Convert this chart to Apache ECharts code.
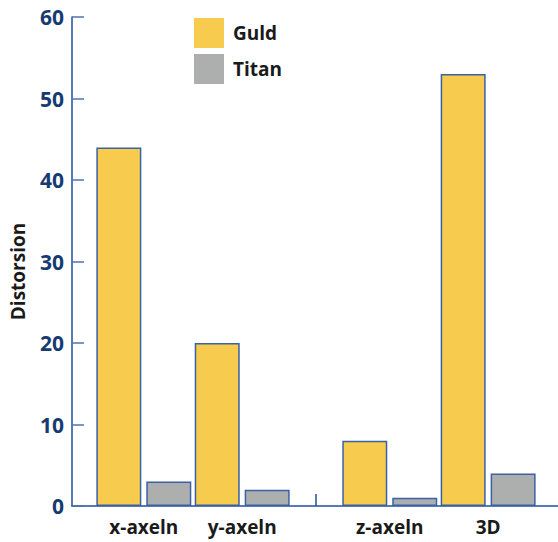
<!DOCTYPE html>
<html>
<head>
<meta charset="utf-8">
<script src="https://cdn.jsdelivr.net/npm/echarts@6/dist/echarts.min.js"></script>
<style>html,body{margin:0;padding:0;background:#fff}#c{width:558px;height:542px}</style>
</head>
<body>
<div id="c"></div>
<script>
const categories = ['x-axeln', 'y-axeln', 'z-axeln', '3D'];
const seriesNames = ['Guld', 'Titan'];
const guld = [44, 20, 8, 53];
const titan = [3, 2, 1, 4];
const yTickLabels = [0, 10, 20, 30, 40, 50, 60];

// category positions on the x scale: second pair of groups is set apart by an extra half step
const positions = categories.map((c, i) => i + 1 + (i >= 2 ? 0.5 : 0));
const separator = (positions[1] + positions[2]) / 2;

const axisBlue = '#1f4f9e';
const tickBlue = '#4f73b0';
const labelNavy = '#163a72';
const font = '"Open Sans", "Noto Sans", sans-serif';

const chart = echarts.init(document.getElementById('c'), null, {renderer: 'svg'});
chart.setOption({
  animation: false,
  backgroundColor: '#ffffff',
  grid: {left: 69, right: 0, top: 17, bottom: 36},
  legend: {
    orient: 'vertical', left: 194, top: 18, padding: 0,
    itemWidth: 30, itemHeight: 30, itemGap: 6,
    icon: 'rect',
    itemStyle: {borderWidth: 0},
    textStyle: {fontFamily: font, fontWeight: 'bold', fontSize: 19, color: '#1a1a1a', padding: [0, 0, 0, 4]},
    data: seriesNames
  },
  xAxis: {
    type: 'value', min: 0.27, max: 5.21,
    splitLine: {show: false},
    axisLine: {show: true, lineStyle: {color: axisBlue, width: 1.5}},
    axisTick: {show: true, inside: true, length: 12, customValues: [separator], lineStyle: {color: axisBlue, width: 1.5}},
    axisLabel: {
      customValues: positions,
      formatter: v => { const i = positions.indexOf(v); return i >= 0 ? categories[i] : ''; },
      fontFamily: font, fontWeight: 'bold', fontSize: 19, color: '#1a1a1a', margin: 11
    }
  },
  yAxis: {
    type: 'value', min: yTickLabels[0], max: yTickLabels[yTickLabels.length - 1], interval: 10,
    name: 'Distorsion', nameLocation: 'middle', nameGap: 45, nameRotate: 90,
    nameTextStyle: {fontFamily: font, fontWeight: 'bold', fontSize: 19, color: '#1a1a1a', padding: [0, 0, 0, -20]},
    splitLine: {show: false},
    axisLine: {show: true, lineStyle: {color: axisBlue, width: 1.5}},
    axisTick: {show: true, inside: true, length: 12, lineStyle: {color: tickBlue, width: 1.5}},
    axisLabel: {fontFamily: font, fontWeight: 'bold', fontSize: 21, color: labelNavy, margin: 8}
  },
  series: [
    {
      name: seriesNames[0], type: 'bar', barWidth: 45, barGap: '11%',
      itemStyle: {color: '#f7cb4d', borderColor: '#3a61a6', borderWidth: 1.5},
      data: guld.map((v, i) => [positions[i], v])
    },
    {
      name: seriesNames[1], type: 'bar', barWidth: 45, barGap: '11%',
      itemStyle: {color: '#adafae', borderColor: '#3a61a6', borderWidth: 1.5},
      data: titan.map((v, i) => [positions[i], v])
    }
  ]
});
</script>
</body>
</html>
